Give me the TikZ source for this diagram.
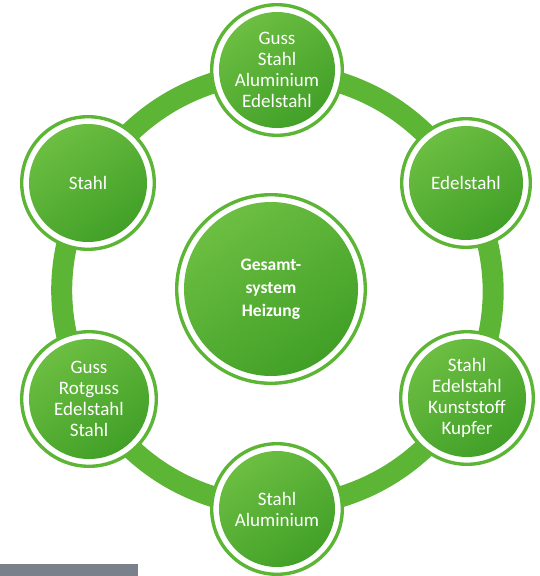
\documentclass[tikz,border=0pt]{standalone}
\usepackage{fontspec}
\setmainfont{Carlito}
\definecolor{gRing}{HTML}{5DB535}
\definecolor{gLight}{HTML}{6EC043}
\definecolor{gDark}{HTML}{3F9E26}
\definecolor{barGray}{HTML}{7A818A}
\begin{document}
\begin{tikzpicture}[x=1pt,y=-1pt,
  bubble/.style={circle, draw=gRing, line width=3.4pt, fill=white, inner sep=0pt,
    minimum size=#1*2pt-3.4pt, text=white, align=center,
    font=\fontsize{19}{21}\selectfont,
    path picture={\shade[top color=gLight, bottom color=gDark, shading angle=35]
      (path picture bounding box.center) circle[radius=#1pt-9pt];}},
  ringband/.style={draw=gRing, line width=21pt}]
\useasboundingbox (0,0) rectangle (540,576);
% nodes positions
\coordinate (pt) at (277,70);
\coordinate (pur) at (466,183);
\coordinate (plr) at (467,398);
\coordinate (pb) at (277,509);
\coordinate (pll) at (89,399);
\coordinate (pul) at (88,183);
% ring
\draw[ringband] (pt) to[bend left=25] (pur) to[bend left=25] (plr) to[bend left=25] (pb)
  to[bend left=25] (pll) to[bend left=25] (pul) to[bend left=25] (pt);
\node[bubble=67] (t) at (pt) {Guss\\Stahl\\Aluminium\\Edelstahl};
\node[bubble=66] (ur) at (pur) {Edelstahl};
\node[bubble=68] (lr) at (plr) {Stahl\\Edelstahl\\Kunststoff\\Kupfer};
\node[bubble=67] (b) at (pb) {Stahl\\Aluminium};
\node[bubble=69] (ll) at (pll) {Guss\\Rotguss\\Edelstahl\\Stahl};
\node[bubble=68] (ul) at (pul) {Stahl};
\node[bubble=96, font=\bfseries\fontsize{17.5}{23}\selectfont] (c) at (271,289) {Gesamt-\\system\\Heizung};
\fill[barGray] (0,564) rectangle (138,576);
\end{tikzpicture}
\end{document}
